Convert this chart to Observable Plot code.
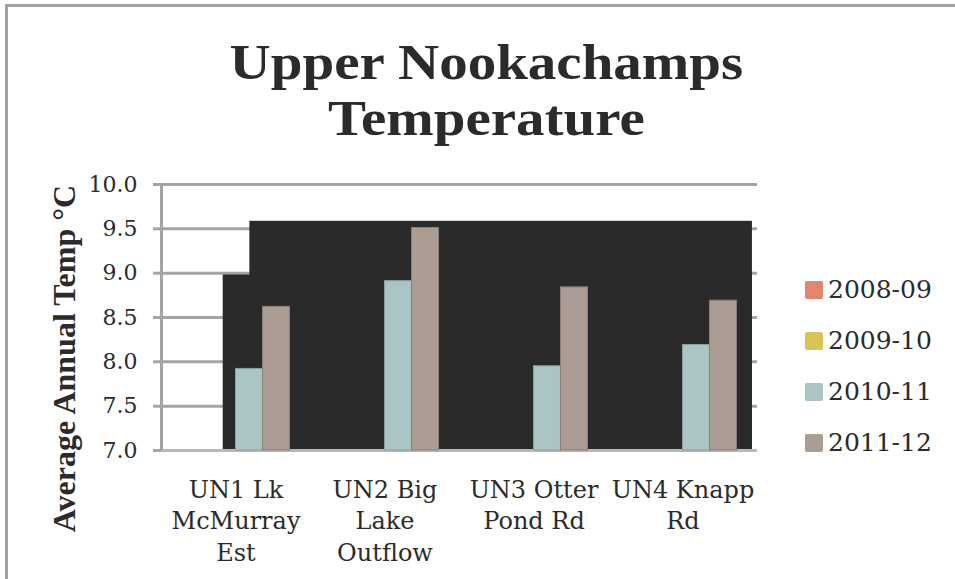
<!DOCTYPE html>
<html>
<head>
<meta charset="utf-8">
<script src="https://cdn.jsdelivr.net/npm/d3@7"></script>
<script src="https://cdn.jsdelivr.net/npm/@observablehq/plot@0.6"></script>
<style>
  html, body { margin: 0; padding: 0; background: #fff; }
  #page { position: relative; width: 955px; height: 579px; overflow: hidden; font-family: "DejaVu Serif", serif; color: #2b2b2b; }
  #frame { position: absolute; left: 5px; top: 4px; width: 960px; height: 590px; border-top: 3px solid #a4a4a4; border-left: 3px solid #a4a4a4; }
  #title { position: absolute; left: 0; width: 973px; top: 34px; text-align: center; font-family: "Liberation Serif", serif; font-weight: bold; font-size: 50px; line-height: 56px; transform: scaleX(1.14); transform-origin: 487px 0; }
  #chart { position: absolute; left: 0; top: 0; }
  #chart svg, #chart svg text { font-family: "DejaVu Serif", serif !important; }
  #chart svg .ylabel text { font-family: "Liberation Serif", serif !important; }
  #legend { position: absolute; left: 805px; top: 251px; }
  .item { display: flex; align-items: flex-end; height: 51px; font-size: 25px; line-height: 24px; }
  .swatch { width: 18px; height: 18px; border-radius: 2px; margin-right: 5px; margin-bottom: 3px; }
</style>
</head>
<body>
<div id="page">
  <div id="frame"></div>
  <div id="title">Upper Nookachamps<br>Temperature</div>
  <div id="chart"></div>
  <div id="legend"></div>
</div>
<script>
// Sites (tick labels) and seasons (series)
const siteLabels = ["UN1 Lk\nMcMurray\nEst", "UN2 Big\nLake\nOutflow", "UN3 Otter\nPond Rd", "UN4 Knapp\nRd"];
const seasons = ["2008-09", "2009-10", "2010-11", "2011-12"];
const seasonColors = ["#e3866f", "#d9c553", "#abc4c5", "#ab9d94"];
const seasonEdges = ["#b56b59", "#ad9d42", "#88a0a1", "#8b7e76"];

// Average annual temperature (°C) per site, one list per season
const temps2008_09 = [null, null, null, null];
const temps2009_10 = [null, null, null, null];
const temps2010_11 = [7.92, 8.91, 7.95, 8.19];
const temps2011_12 = [8.62, 9.51, 8.84, 8.69];

// Dark fill behind the bars: overlapping spans in site units with their top temperature
const shadeFrom = [0.414, 0.593];
const shadeTo = [3.966, 3.966];
const shadeTop = [8.98, 9.585];

const yTicks = [7.0, 7.5, 8.0, 8.5, 9.0, 9.5, 10.0];
const yBase = 7;

const series = [temps2008_09, temps2009_10, temps2010_11, temps2011_12];
const bars = [];
series.forEach((vals, j) => vals.forEach((v, i) => {
  if (v != null) bars.push({site: i, season: seasons[j], value: v});
}));
const shade = shadeFrom.map((x1, k) => ({x1, x2: shadeTo[k], top: shadeTop[k]}));

// Position of each season's bar inside its site group
const inner = d3.scaleBand().domain(seasons).range([0, 1]).paddingInner(0).paddingOuter(0.76);

const chart = Plot.plot({
  width: 955,
  height: 579,
  marginLeft: 161,
  marginRight: 198,
  marginTop: 184,
  marginBottom: 129,
  style: {color: "#2b2b2b", background: "transparent"},
  x: {domain: [0, siteLabels.length]},
  y: {domain: [7, 10]},
  color: {domain: seasons, range: seasonColors},
  marks: [
    Plot.gridY(yTicks, {stroke: "#a4a4a4", strokeOpacity: 1, strokeWidth: 3}),
    Plot.rect(shade, {x1: "x1", x2: "x2", y1: () => yBase, y2: "top", fill: "#2a2a2a"}),
    Plot.ruleY([yBase], {stroke: "#b8b8b8", strokeWidth: 3}),
    Plot.rect(bars, {
      x1: d => d.site + inner(d.season),
      x2: d => d.site + inner(d.season) + inner.bandwidth(),
      y1: () => yBase,
      y2: "value",
      fill: "season",
      stroke: d => seasonEdges[seasons.indexOf(d.season)],
      strokeWidth: 1
    }),
    Plot.ruleX([0], {stroke: "#a4a4a4", strokeWidth: 3}),
    Plot.axisY({ticks: yTicks, tickFormat: d3.format(".1f"), tickSize: 8, tickPadding: 16, stroke: "#a4a4a4", strokeWidth: 3, fontSize: 22, label: null}),
    Plot.axisX({ticks: siteLabels.map((_, i) => i + 0.5), tickFormat: (d) => siteLabels[Math.floor(d)], tickSize: 0, tickPadding: 25, fontSize: 24, lineHeight: 1.31, label: null}),
    Plot.text(["Average Annual Temp °C"], {frameAnchor: "left", textAnchor: "middle", rotate: -90, dx: -97, dy: 41, fontSize: 32, fontWeight: "bold", fill: "#2b2b2b", className: "ylabel"})
  ]
});
document.getElementById("chart").appendChild(chart);

// Legend
const legend = document.getElementById("legend");
seasons.forEach((s, j) => {
  const row = document.createElement("div");
  row.className = "item";
  const sw = document.createElement("span");
  sw.className = "swatch";
  sw.style.background = seasonColors[j];
  const label = document.createElement("span");
  label.textContent = s;
  row.append(sw, label);
  legend.append(row);
});
</script>
</body>
</html>
